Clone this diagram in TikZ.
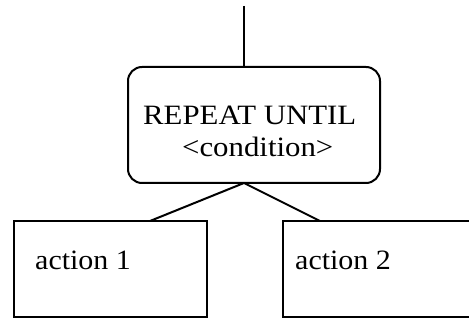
\documentclass[tikz,border=0pt]{standalone}
\usepackage{fontspec}
\setmainfont{Liberation Serif}
\begin{document}
\begin{tikzpicture}[x=1pt,y=-1pt,
  lin/.style={line width=2pt,black},
  rbox/.style={lin,draw,rectangle,rounded corners=14pt,inner sep=0pt},
  sbox/.style={lin,draw,rectangle,inner sep=0pt},
  txt/.style={inner sep=0pt,anchor=base west,font=\fontsize{28}{32}\selectfont}]
\useasboundingbox (0,0) rectangle (469,320);
\clip (0,0) rectangle (469,320);
% repeat box
\node[rbox,minimum width=252pt,minimum height=116pt] (rep) at (254,125) {};
\node[txt] (t1) at (143,125) {\scalebox{1.1}[1]{REPEAT UNTIL}};
\node[txt] (t2) at (182,157) {\scalebox{1.1}[1]{<condition>}};
% top connector
\coordinate (top) at (244,6);
\coordinate (jt) at (244,67);
\coordinate (jb) at (244,183);
\draw[lin] (top) -- (jt);
% action boxes
\node[sbox,minimum width=193pt,minimum height=96pt] (a1) at (110.5,269) {};
\node[sbox,minimum width=200pt,minimum height=96pt] (a2) at (383,269) {};
\node[txt] (l1) at (35,270) {\scalebox{1.07}[1]{action 1}};
\node[txt] (l2) at (295,270) {\scalebox{1.07}[1]{action 2}};
\coordinate (c1) at (150,221);
\coordinate (c2) at (320,221);
\draw[lin] (c1) -- (jb) -- (c2);
\end{tikzpicture}
\end{document}
